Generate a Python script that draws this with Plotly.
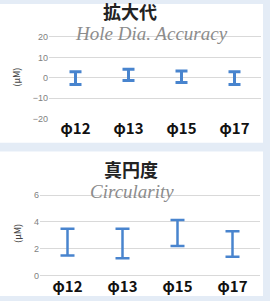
import plotly.graph_objects as go

categories = ["φ12", "φ13", "φ15", "φ17"]
hole_low = [-3.3, -1.4, -2.4, -3.3]
hole_high = [2.9, 4.2, 3.3, 2.9]
circ_low = [1.5, 1.3, 2.2, 1.4]
circ_high = [3.5, 3.5, 4.15, 3.3]
hole_ticks = [20, 10, 0, -10, -20]
circ_ticks = [6, 4, 2, 0]

W, H = 270, 301
BAR = "rgb(72,132,206)"
GRID = "#d9d9d9"

fig = go.Figure()

fig.add_trace(go.Scatter(
    x=categories, y=hole_high, mode="markers", marker=dict(opacity=0, size=1),
    error_y=dict(type="data", symmetric=False, array=[0]*4,
                 arrayminus=[h - l for h, l in zip(hole_high, hole_low)],
                 color=BAR, thickness=3, width=6),
    xaxis="x", yaxis="y", showlegend=False, hoverinfo="skip"))

fig.add_trace(go.Scatter(
    x=categories, y=circ_high, mode="markers", marker=dict(opacity=0, size=1),
    error_y=dict(type="data", symmetric=False, array=[0]*4,
                 arrayminus=[h - l for h, l in zip(circ_high, circ_low)],
                 color=BAR, thickness=2.5, width=7),
    xaxis="x2", yaxis="y2", showlegend=False, hoverinfo="skip"))

def py(p):
    return 1 - p / H

xfont = dict(family="Noto Sans CJK JP, Liberation Sans", size=15, color="#111", weight="bold")
yfont = dict(family="Liberation Sans, Arial", size=9, color="#7f7f7f")
ytitle_font = dict(family="Noto Sans CJK JP", size=9, color="#444")
ncat = len(categories)

# top
t_top, t_bot = 34, 118
rng_top = [-20, 20.6]
ppu = (t_bot - t_top) / 40
fig.update_layout(
    xaxis=dict(domain=[49/W, 261/W], anchor="y", showgrid=False, zeroline=False,
               showline=False, ticks="", tickfont=xfont, type="category",
               range=[-0.5, ncat - 0.5]),
    yaxis=dict(domain=[py(t_bot), py(t_top - 0.6*ppu)], anchor="x", range=rng_top,
               tickvals=hole_ticks, showgrid=True, gridcolor=GRID, gridwidth=1,
               zeroline=True, zerolinecolor=GRID, zerolinewidth=1, showline=False,
               tickfont=yfont,
               title=dict(text="(μM)", font=ytitle_font, standoff=10)),
)
# bottom
b_top, b_bot = 197, 280
ppu2 = (b_bot - b_top) / 6
fig.update_layout(
    xaxis2=dict(domain=[40/W, 260/W], anchor="y2", showgrid=False, zeroline=False,
                showline=False, ticks="", tickfont=xfont, type="category",
                range=[-0.5, ncat - 0.5]),
    yaxis2=dict(domain=[py(b_bot), py(b_top - 0.3*ppu2)], anchor="x2", range=[0, 6.3],
                tickvals=circ_ticks, showgrid=True, gridcolor=GRID, gridwidth=1,
                zeroline=True, zerolinecolor=GRID, zerolinewidth=1, showline=False,
                tickfont=yfont,
                title=dict(text="(μM)", font=ytitle_font, standoff=10)),
)

def ann(text, x, y, font):
    return dict(text=text, x=x/W, y=py(y), xref="paper", yref="paper",
                xanchor="center", yanchor="middle", showarrow=False, font=font)

title_font = dict(family="Noto Sans CJK JP", size=18, color="#222")
sub_font = dict(family="Liberation Serif", size=19, color="#8c8c8c")

fig.update_layout(
    width=W, height=H, margin=dict(l=0, r=0, t=0, b=0),
    paper_bgcolor="#e4ecf6", plot_bgcolor="rgba(0,0,0,0)",
    shapes=[
        dict(type="rect", xref="paper", yref="paper", x0=0, x1=263/W, y0=py(143), y1=1,
             fillcolor="white", line=dict(width=0), layer="below"),
        dict(type="rect", xref="paper", yref="paper", x0=0, x1=263/W, y0=0, y1=py(152),
             fillcolor="white", line=dict(width=0), layer="below"),
    ],
    annotations=[
        ann("<b>拡大代</b>", 130, 7, title_font),
        ann("<i>Hole Dia. Accuracy</i>", 151, 30, sub_font),
        ann("<b>真円度</b>", 131, 170, title_font),
        ann("<i>Circularity</i>", 132, 193, sub_font),
    ],
)

fig.write_html("out.html", config={"displayModeBar": False},
               post_script="document.body.style.margin='0';document.body.style.padding='0';")
